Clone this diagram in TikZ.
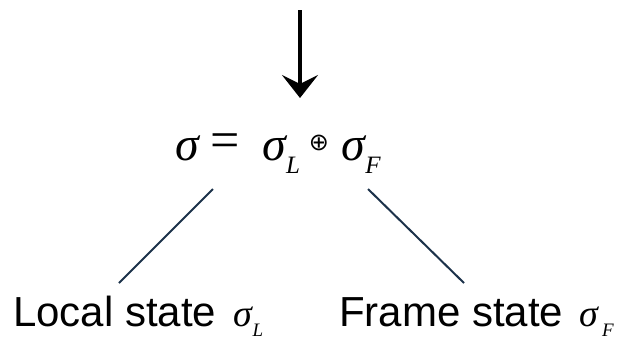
\documentclass[tikz,border=0pt]{standalone}
\usepackage{fontspec}
\setmainfont{Liberation Serif}
\newfontfamily\labelfont{Liberation Sans}
\newfontfamily\symbfont{DejaVu Sans}
\usetikzlibrary{arrows.meta}
\definecolor{linkblue}{RGB}{28,50,74}
\tikzset{
  flow/.style={line width=4.5pt, -{Stealth[length=23pt, width=36pt, inset=9pt]}},
  link/.style={draw=linkblue, line width=2pt},
  big sym/.style={inner sep=0pt, font=\fontsize{48}{48}\selectfont\itshape},
  sub sym/.style={inner sep=0pt, font=\fontsize{25}{25}\selectfont\itshape},
  cap sym/.style={inner sep=0pt, font=\fontsize{38}{38}\selectfont\itshape},
  cap sub/.style={inner sep=0pt, font=\fontsize{19}{19}\selectfont\itshape},
  caption/.style={inner sep=0pt, anchor=base west, font=\fontsize{42}{42}\selectfont\labelfont},
}

\begin{document}
\begin{tikzpicture}[x=1pt, y=-1pt]
  \useasboundingbox (0,0) rectangle (621,341);
  \coordinate (start) at (300,10);   \coordinate (tip) at (300,98);
  \draw[flow] (start) -- (tip);
  \node[big sym] (sig) at (187.5,148) {σ};
  \node[big sym, font=\fontsize{52}{52}\selectfont] (eq) at (225,146) {=};
  \node[big sym] (sigL) at (274,148) {σ};
  \node[sub sym] (subL) at (293,165) {L};
  \node[inner sep=0pt, font=\fontsize{24}{24}\selectfont\symbfont] (plus) at (319,143) {⊕};
  \node[big sym] (sigF) at (353,148) {σ};
  \node[sub sym] (subF) at (373,165) {F};
  \node[caption] (local) at (13,326) {Local state};
  \node[cap sym] (localsig) at (242.5,316.5) {σ};
  \node[cap sub] (localsub) at (258,330) {L};
  \node[caption] (frame) at (339,326) {Frame state};
  \node[cap sym] (framesig) at (589,316.5) {σ};
  \node[cap sub] (framesub) at (608,330) {F};
  \coordinate (ltop) at (213,189);   \coordinate (lbot) at (119,283);
  \coordinate (rtop) at (368,189);   \coordinate (rbot) at (464,283);
  \foreach \a/\b in {ltop/lbot, rtop/rbot}{\draw[link] (\a) -- (\b);}
\end{tikzpicture}
\end{document}
